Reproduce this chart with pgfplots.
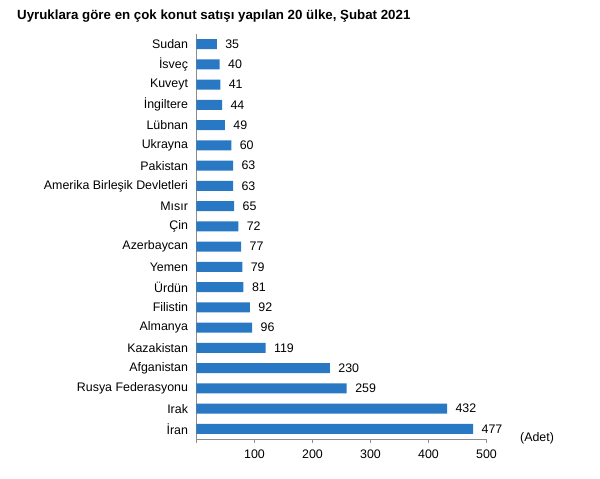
\documentclass[border=0pt]{standalone}
\usepackage{pgfplots}
\pgfplotsset{compat=1.18}
\usepackage{fontspec}
\setmainfont{Liberation Sans}
\definecolor{barblue}{RGB}{40,120,196}
\definecolor{axisgray}{RGB}{140,140,140}
\newcommand{\lblfont}{\fontsize{12.4}{14}\selectfont}
\begin{document}
\begin{tikzpicture}[x=1pt,y=1pt]
\path[use as bounding box] (0,0) rectangle (600,479);
\begin{axis}[
  at={(196.5pt,40pt)}, anchor=south west,
  scale only axis, width=290pt, height=405pt,
  xbar, bar width=10pt,
  xmin=0, xmax=500, ymin=-0.5, ymax=19.5,
  axis x line*=bottom, axis y line*=left,
  axis line style={axisgray, line width=0.8pt},
  xtick={0,100,200,300,400,500},
  xticklabels={,100,200,300,400,500},
  ytick={0,...,19},
  yticklabels={İran,Irak,Rusya Federasyonu,Afganistan,Kazakistan,Almanya,Filistin,Ürdün,Yemen,Azerbaycan,Çin,Mısır,Amerika Birleşik Devletleri,Pakistan,Ukrayna,Lübnan,İngiltere,Kuveyt,İsveç,Sudan},
  minor ytick={-0.5,0.5,...,19.5},
  tick align=outside,
  major tick length=4pt, minor tick length=4pt,
  ytick style={draw=none},
  minor tick style={draw=axisgray, line width=0.8pt},
  xtick style={draw=axisgray, line width=0.8pt},
  tick label style={font=\lblfont, text=black},
  /pgf/number format/assume math mode=true,
  xticklabel style={yshift=-3pt},
  yticklabel style={xshift=-1pt},
  nodes near coords,
  nodes near coords style={font=\lblfont, text=black, anchor=west, xshift=5pt},
  clip=false,
]
\addplot[fill=barblue, draw=none] coordinates {
  (477,0) (432,1) (259,2) (230,3) (119,4) (96,5) (92,6) (81,7) (79,8) (77,9)
  (72,10) (65,11) (63,12) (63,13) (60,14) (49,15) (44,16) (41,17) (40,18) (35,19)
};
\end{axis}
\node[anchor=west, inner sep=0pt, font=\lblfont] at (520,41) {(Adet)};
\node[anchor=base west, inner sep=0pt, font=\fontsize{13.3}{15}\bfseries] at (17,459) {Uyruklara göre en çok konut satışı yapılan 20 ülke, Şubat 2021};
\end{tikzpicture}
\end{document}
